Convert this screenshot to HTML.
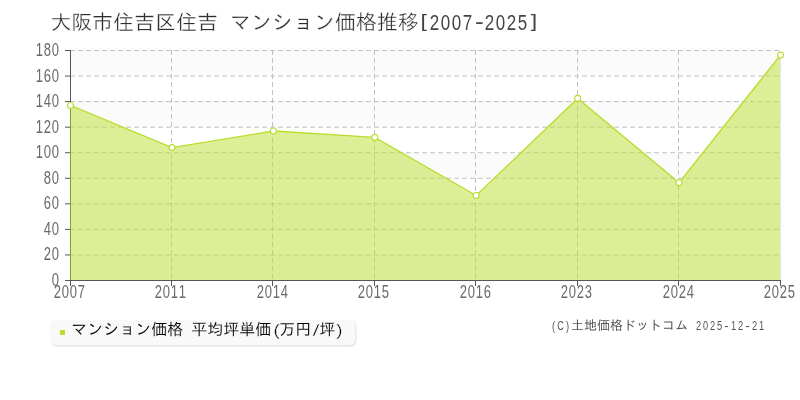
<!DOCTYPE html>
<html lang="ja">
<head>
<meta charset="utf-8">
<title>大阪市住吉区住吉 マンション価格推移[2007-2025]</title>
<style>
html,body{margin:0;padding:0;background:#fff;}
body{width:800px;height:400px;overflow:hidden;position:relative;}
svg{position:absolute;left:0;top:0;display:block;}
text{font-family:"Liberation Sans","IPAGothic",sans-serif;}
.tt text{stroke:#fff;stroke-width:0.3px;}
.tt text.l{stroke:none;}
.lg text{stroke:#f9f9f9;stroke-width:0.1px;}
.cp text{stroke:none;}
.grid line{stroke:#c2c2c2;stroke-width:1;stroke-dasharray:5 3;}
.axis line{stroke:#555;stroke-width:1;}
.mk circle{fill:#fff;stroke:#b9dd2f;stroke-width:1.1;}
</style>
</head>
<body>
<svg width="800" height="400" viewBox="0 0 800 400">
<defs>
<filter id="sh" x="-5%" y="-30%" width="110%" height="160%"><feGaussianBlur stdDeviation="0.9"/></filter>
</defs>
<rect x="0" y="0" width="800" height="400" fill="#ffffff"/>
<g class="bands">
<rect x="70" y="50.00" width="710" height="25.56" fill="#fbfbfb"/>
<rect x="70" y="101.11" width="710" height="25.56" fill="#fbfbfb"/>
<rect x="70" y="152.22" width="710" height="25.56" fill="#fbfbfb"/>
<rect x="70" y="203.33" width="710" height="25.56" fill="#fbfbfb"/>
<rect x="70" y="254.44" width="710" height="25.56" fill="#fbfbfb"/>
</g>
<g class="grid">
<line x1="70" y1="254.94" x2="780" y2="254.94"/>
<line x1="70" y1="229.39" x2="780" y2="229.39"/>
<line x1="70" y1="203.83" x2="780" y2="203.83"/>
<line x1="70" y1="178.28" x2="780" y2="178.28"/>
<line x1="70" y1="152.72" x2="780" y2="152.72"/>
<line x1="70" y1="127.17" x2="780" y2="127.17"/>
<line x1="70" y1="101.61" x2="780" y2="101.61"/>
<line x1="70" y1="76.06" x2="780" y2="76.06"/>
<line x1="70" y1="50.50" x2="780" y2="50.50"/>
<line x1="171.5" y1="50" x2="171.5" y2="280"/>
<line x1="272.5" y1="50" x2="272.5" y2="280"/>
<line x1="374.5" y1="50" x2="374.5" y2="280"/>
<line x1="475.5" y1="50" x2="475.5" y2="280"/>
<line x1="577.5" y1="50" x2="577.5" y2="280"/>
<line x1="678.5" y1="50" x2="678.5" y2="280"/>
</g>
<g class="axis">
<line x1="70.5" y1="50" x2="70.5" y2="281"/>
<line x1="65" y1="280.50" x2="70" y2="280.50"/>
<line x1="65" y1="254.94" x2="70" y2="254.94"/>
<line x1="65" y1="229.39" x2="70" y2="229.39"/>
<line x1="65" y1="203.83" x2="70" y2="203.83"/>
<line x1="65" y1="178.28" x2="70" y2="178.28"/>
<line x1="65" y1="152.72" x2="70" y2="152.72"/>
<line x1="65" y1="127.17" x2="70" y2="127.17"/>
<line x1="65" y1="101.61" x2="70" y2="101.61"/>
<line x1="65" y1="76.06" x2="70" y2="76.06"/>
<line x1="65" y1="50.50" x2="70" y2="50.50"/>
</g>
<polygon points="70,280 70,105.44 171.93,147.61 273.36,131.00 374.79,137.39 476.21,195.53 577.64,98.42 679.07,182.75 780.2,55.10 780.2,280" fill="#bce02e" fill-opacity="0.5"/>
<line x1="780.6" y1="57.6" x2="780.6" y2="280" stroke="#e4e4ea" stroke-width="1"/>
<polyline points="70.50,105.44 171.93,147.61 273.36,131.00 374.79,137.39 476.21,195.53 577.64,98.42 679.07,182.75 780.50,55.10" fill="none" stroke="#b9dd2f" stroke-width="1.35"/>
<g class="axis">
<line x1="65" y1="280.5" x2="781" y2="280.5"/>
<line x1="70.5" y1="281" x2="70.5" y2="286"/>
<line x1="171.5" y1="281" x2="171.5" y2="286"/>
<line x1="272.5" y1="281" x2="272.5" y2="286"/>
<line x1="374.5" y1="281" x2="374.5" y2="286"/>
<line x1="475.5" y1="281" x2="475.5" y2="286"/>
<line x1="577.5" y1="281" x2="577.5" y2="286"/>
<line x1="678.5" y1="281" x2="678.5" y2="286"/>
<line x1="780.5" y1="281" x2="780.5" y2="286"/>
</g>
<text transform="translate(51.5 286) scale(0.7 1)" x="5.71" y="0" font-size="18.6" fill="#6a6a6a" text-anchor="middle">0</text>
<text transform="translate(43.5 260) scale(0.7 1)" x="5.71 17.14" y="0" font-size="18.6" fill="#6a6a6a" text-anchor="middle">20</text>
<text transform="translate(43.5 235) scale(0.7 1)" x="5.71 17.14" y="0" font-size="18.6" fill="#6a6a6a" text-anchor="middle">40</text>
<text transform="translate(43.5 209) scale(0.7 1)" x="5.71 17.14" y="0" font-size="18.6" fill="#6a6a6a" text-anchor="middle">60</text>
<text transform="translate(43.5 184) scale(0.7 1)" x="5.71 17.14" y="0" font-size="18.6" fill="#6a6a6a" text-anchor="middle">80</text>
<text transform="translate(35.5 158) scale(0.7 1)" x="5.71 17.14 28.57" y="0" font-size="18.6" fill="#6a6a6a" text-anchor="middle">100</text>
<text transform="translate(35.5 133) scale(0.7 1)" x="5.71 17.14 28.57" y="0" font-size="18.6" fill="#6a6a6a" text-anchor="middle">120</text>
<text transform="translate(35.5 107) scale(0.7 1)" x="5.71 17.14 28.57" y="0" font-size="18.6" fill="#6a6a6a" text-anchor="middle">140</text>
<text transform="translate(35.5 82) scale(0.7 1)" x="5.71 17.14 28.57" y="0" font-size="18.6" fill="#6a6a6a" text-anchor="middle">160</text>
<text transform="translate(35.5 56) scale(0.7 1)" x="5.71 17.14 28.57" y="0" font-size="18.6" fill="#6a6a6a" text-anchor="middle">180</text>
<text transform="translate(53.3 298) scale(0.7 1)" x="5.71 17.14 28.57 40" y="0" font-size="18.6" fill="#6a6a6a" text-anchor="middle">2007</text>
<text transform="translate(154.3 298) scale(0.7 1)" x="5.71 17.14 28.57 40" y="0" font-size="18.6" fill="#6a6a6a" text-anchor="middle">2011</text>
<text transform="translate(256.3 298) scale(0.7 1)" x="5.71 17.14 28.57 40" y="0" font-size="18.6" fill="#6a6a6a" text-anchor="middle">2014</text>
<text transform="translate(357.3 298) scale(0.7 1)" x="5.71 17.14 28.57 40" y="0" font-size="18.6" fill="#6a6a6a" text-anchor="middle">2015</text>
<text transform="translate(459.3 298) scale(0.7 1)" x="5.71 17.14 28.57 40" y="0" font-size="18.6" fill="#6a6a6a" text-anchor="middle">2016</text>
<text transform="translate(560.3 298) scale(0.7 1)" x="5.71 17.14 28.57 40" y="0" font-size="18.6" fill="#6a6a6a" text-anchor="middle">2023</text>
<text transform="translate(662.3 298) scale(0.7 1)" x="5.71 17.14 28.57 40" y="0" font-size="18.6" fill="#6a6a6a" text-anchor="middle">2024</text>
<text transform="translate(763.3 298) scale(0.7 1)" x="5.71 17.14 28.57 40" y="0" font-size="18.6" fill="#6a6a6a" text-anchor="middle">2025</text>
<g class="mk">
<circle cx="70.50" cy="105.44" r="3"/>
<circle cx="171.93" cy="147.61" r="3"/>
<circle cx="273.36" cy="131.00" r="3"/>
<circle cx="374.79" cy="137.39" r="3"/>
<circle cx="476.21" cy="195.53" r="3"/>
<circle cx="577.64" cy="98.42" r="3"/>
<circle cx="679.07" cy="182.75" r="3"/>
<circle cx="780.50" cy="55.10" r="3"/>
</g>
<g class="tt">
<text x="50.3 71.3 92.3 113.3 134.3 155.3 176.3 197.3" y="29.5" font-size="21" fill="#2e2e2e">大阪市住吉区住吉</text>
<text x="230 251 272 293 314 335 356 377 398" y="29.5" font-size="21" fill="#2e2e2e">マンション価格推移</text>
<text transform="translate(418.2 26.9) scale(1.2 1)" x="4.58" y="0" font-size="19.2" fill="#444" text-anchor="middle" class="l">[</text>
<text transform="translate(429 29.5) scale(0.8 1)" x="6.88 20.62 34.38 48.12" y="0" font-size="21.2" fill="#444" text-anchor="middle" class="l">2007</text>
<text transform="translate(474 29.2) scale(1.25 1)" x="4.4" y="0" font-size="21.2" fill="#444" text-anchor="middle" class="l">-</text>
<text transform="translate(484 29.5) scale(0.8 1)" x="6.88 20.62 34.38 48.12" y="0" font-size="21.2" fill="#444" text-anchor="middle" class="l">2025</text>
<text transform="translate(528.4 26.9) scale(1.2 1)" x="4.58" y="0" font-size="19.2" fill="#444" text-anchor="middle" class="l">]</text>
</g>
<g class="lg">
<rect x="51.5" y="321.2" width="304.5" height="25" rx="5" fill="#000" opacity="0.13" filter="url(#sh)"/>
<rect x="50.5" y="320" width="304.5" height="25" rx="5" fill="#f9f9f9"/>
<rect x="60" y="330" width="5" height="5" fill="#b9dd2f"/>
<text x="71.3 87.3 103.3 119.3 135.3 151.3 167.3" y="335.2" font-size="16" fill="#000">マンション価格</text>
<text x="191.3 207.3 223.3 239.3 255.3" y="335.2" font-size="16" fill="#000">平均坪単価</text>
<text transform="translate(272.6 335.6) scale(1.1 1)" x="3.64" y="0" font-size="17" fill="#000" text-anchor="middle" style="stroke-width:0.35px">(</text>
<text x="279.3 295.3" y="335.2" font-size="16" fill="#000">万円</text>
<text transform="translate(312 335.7) scale(1.5 1)" x="2.67" y="0" font-size="17" fill="#000" text-anchor="middle" style="stroke-width:0.5px">/</text>
<text x="319.3" y="335.2" font-size="16" fill="#000">坪</text>
<text transform="translate(335.4 335.6) scale(1.1 1)" x="3.64" y="0" font-size="17" fill="#000" text-anchor="middle" style="stroke-width:0.35px">)</text>
</g>
<g class="cp">
<text transform="translate(550 330) scale(0.7 1)" x="5 15 25" y="0" font-size="13.2" fill="#555" text-anchor="middle">(C)</text>
<text x="571 584 597 610 623 636 649 662 675" y="330" font-size="13" fill="#555">土地価格ドットコム</text>
<text transform="translate(695 330) scale(0.7 1)" x="5 15 25 35" y="0" font-size="13.2" fill="#555" text-anchor="middle">2025</text>
<text transform="translate(723 330) scale(1 1)" x="3.5" y="0" font-size="13.2" fill="#555" text-anchor="middle">-</text>
<text transform="translate(730 330) scale(0.7 1)" x="5 15" y="0" font-size="13.2" fill="#555" text-anchor="middle">12</text>
<text transform="translate(744 330) scale(1 1)" x="3.5" y="0" font-size="13.2" fill="#555" text-anchor="middle">-</text>
<text transform="translate(751 330) scale(0.7 1)" x="5 15" y="0" font-size="13.2" fill="#555" text-anchor="middle">21</text>
</g>
</svg>
</body>
</html>
